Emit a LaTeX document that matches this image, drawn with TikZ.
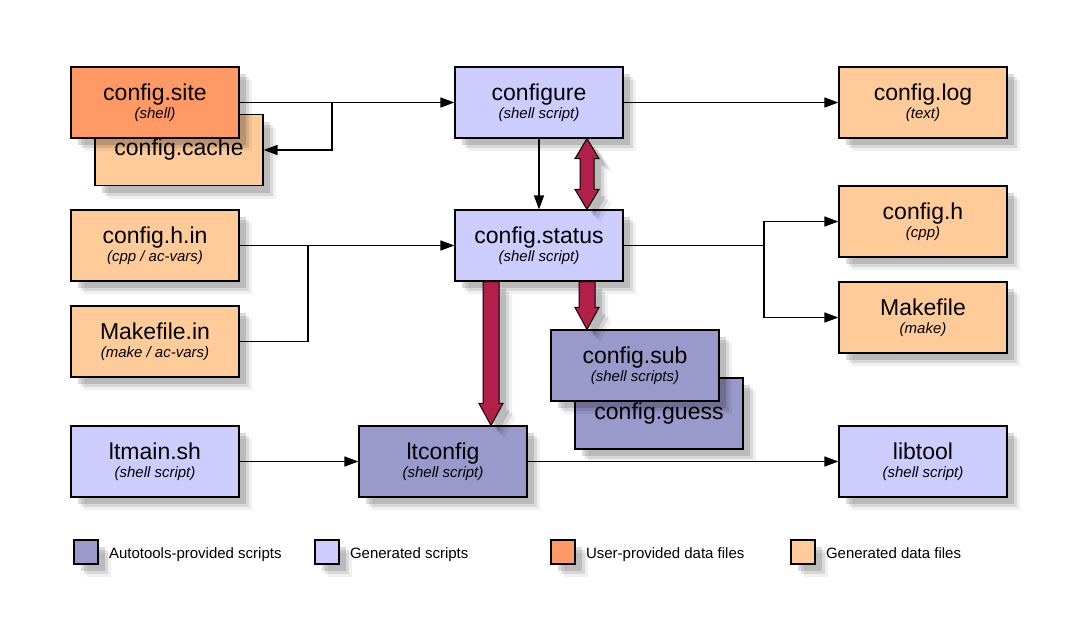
\documentclass[tikz,border=0pt]{standalone}
\usepackage{fontspec}
\setmainfont{Liberation Sans}
\usetikzlibrary{arrows.meta,shadows,calc,positioning}
\definecolor{autoblue}{HTML}{9999CC}
\definecolor{genblue}{HTML}{CCCCFF}
\definecolor{userorange}{HTML}{FF9966}
\definecolor{genorange}{HTML}{FFCC99}
\definecolor{fatred}{HTML}{B22049}
\newcommand{\ttl}[1]{{\fontsize{11.5}{12}\selectfont #1}}
\newcommand{\sbt}[1]{{\fontsize{7.5}{8}\selectfont\itshape #1}}
\tikzset{
  soft shadow/.style={general shadow={shadow xshift=6.5pt,shadow yshift=-6.5pt,fill=black,opacity=0.06},
                      general shadow={shadow xshift=5pt,shadow yshift=-5pt,fill=black,opacity=0.10},
                      general shadow={shadow xshift=3.5pt,shadow yshift=-3.5pt,fill=black,opacity=0.14}},
  box/.style={draw, line width=0.6pt, minimum width=84pt, minimum height=35.5pt,
              align=center, inner sep=0pt, soft shadow},
  legbox/.style={draw, line width=0.6pt, minimum size=12pt, inner sep=0pt, soft shadow},
  legtext/.style={font=\fontsize{7.5}{8}\selectfont, inner sep=0pt, text height=1.6ex, text depth=0.4ex},
  link/.style={line width=0.7pt, -{Triangle[length=7pt,width=5pt]}},
  plain/.style={line width=0.7pt},
  fat/.style={draw, line width=0.5pt, fill=fatred, soft shadow}
}
\begin{document}
\begin{tikzpicture}[x=0.5pt,y=-0.5pt]
  \useasboundingbox (0,0) rectangle (1075,622);
  % data files and scripts
  \node[box, fill=genorange] (cache) at (179,150) {\ttl{config.cache}};
  \node[box, fill=userorange] (site) at (155,102.5) {\ttl{config.site}\\[-3pt]\sbt{(shell)}};
  \node[box, fill=genblue] (configure) at (539,102.5) {\ttl{configure}\\[-3pt]\sbt{(shell script)}};
  \node[box, fill=genorange] (log) at (923,102.5) {\ttl{config.log}\\[-3pt]\sbt{(text)}};
  \node[box, fill=genorange] (hin) at (155,245.5) {\ttl{config.h.in}\\[-3pt]\sbt{(cpp / ac-vars)}};
  \node[box, fill=genblue] (status) at (539,245.5) {\ttl{config.status}\\[-3pt]\sbt{(shell script)}};
  \node[box, fill=genorange] (configh) at (923,221.5) {\ttl{config.h}\\[-3pt]\sbt{(cpp)}};
  \node[box, fill=genorange] (makefile) at (923,317.5) {\ttl{Makefile}\\[-3pt]\sbt{(make)}};
  \node[box, fill=genorange] (makein) at (155,341.5) {\ttl{Makefile.in}\\[-3pt]\sbt{(make / ac-vars)}};
  \node[box, fill=autoblue] (guess) at (659,413.5) {\ttl{config.guess}};
  \node[box, fill=autoblue] (sub) at (635,365.5) {\ttl{config.sub}\\[-3pt]\sbt{(shell scripts)}};
  \node[box, fill=genblue] (ltmain) at (155,461.5) {\ttl{ltmain.sh}\\[-3pt]\sbt{(shell script)}};
  \node[box, fill=autoblue] (ltconfig) at (443,461.5) {\ttl{ltconfig}\\[-3pt]\sbt{(shell script)}};
  \node[box, fill=genblue] (libtool) at (923,461.5) {\ttl{libtool}\\[-3pt]\sbt{(shell script)}};

  % forks
  \coordinate (sitefork) at (332,102.5);
  \coordinate (hinfork) at (308,245.5);
  \coordinate (statfork) at (764,245.5);

  % thin links
  \draw[link] (site.east) -- (configure.west);
  \draw[link] (sitefork) |- (cache.east);
  \draw[link] (configure.east) -- (log.west);
  \draw[link] (configure) -- (status);
  \draw[link] (hin.east) -- (status.west);
  \draw[plain] (makein.east) -| (hinfork);
  \draw[plain] (status.east) -- (statfork);
  \draw[link] (statfork) |- (configh.west);
  \draw[link] (statfork) |- (makefile.west);
  \draw[link] (ltmain.east) -- (ltconfig.west);
  \draw[link] (ltconfig.east) -- (libtool.west);

  % fat arrows
  \path[fat] let \p1=($(configure.south)+(48,0)$), \p2=($(status.north)+(48,0)$) in
    (\x1,\y1) -- (\x1+6pt,\y1-10pt) -- (\x1+3.5pt,\y1-10pt) -- (\x1+3.5pt,\y2+10pt)
    -- (\x1+6pt,\y2+10pt) -- (\x1,\y2) -- (\x1-6pt,\y2+10pt) -- (\x1-3.5pt,\y2+10pt)
    -- (\x1-3.5pt,\y1-10pt) -- (\x1-6pt,\y1-10pt) -- cycle;
  \path[fat] let \p1=($(status.south)+(-48,0)$), \p2=($(ltconfig.north)+(48,0)$) in
    (\x1-4pt,\y1) -- (\x1-4pt,\y2+11pt) -- (\x1-6pt,\y2+11pt) -- (\x1,\y2)
    -- (\x1+6pt,\y2+11pt) -- (\x1+4pt,\y2+11pt) -- (\x1+4pt,\y1) -- cycle;
  \path[fat] let \p1=($(status.south)+(48,0)$), \p2=($(sub.north)+(-48,0)$) in
    (\x1-4pt,\y1) -- (\x1-4pt,\y2+11pt) -- (\x1-6pt,\y2+11pt) -- (\x1,\y2)
    -- (\x1+6pt,\y2+11pt) -- (\x1+4pt,\y2+11pt) -- (\x1+4pt,\y1) -- cycle;

  % legend
  \node[legbox, fill=autoblue] (lauto) at (86,552) {};
  \node[legtext, right=5pt of lauto] (lautotext) {Autotools-provided scripts};
  \node[legbox, fill=genblue] (lgen) at (327,552) {};
  \node[legtext, right=5pt of lgen] (lgentext) {Generated scripts};
  \node[legbox, fill=userorange] (luser) at (563,552) {};
  \node[legtext, right=5pt of luser] (lusertext) {User-provided data files};
  \node[legbox, fill=genorange] (ldata) at (803,552) {};
  \node[legtext, right=5pt of ldata] (ldatatext) {Generated data files};
\end{tikzpicture}
\end{document}
